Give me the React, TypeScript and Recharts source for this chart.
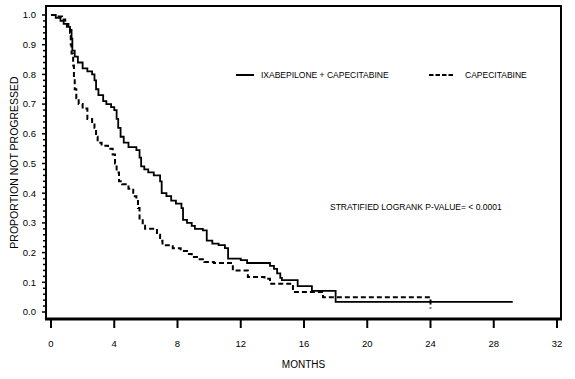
import React from "react";
import { Line, LineChart, XAxis, YAxis } from "recharts";

// Kaplan-Meier step points (month, proportion not progressed)
const ixaMonths = [0, 0.3, 0.6, 0.8, 1.0, 1.2, 1.3, 1.35, 1.5, 1.7, 2.0, 2.3, 2.6, 2.75, 2.85, 3.0, 3.3, 3.5, 3.8, 4.0, 4.15, 4.25, 4.4, 4.6, 4.9, 5.4, 5.6, 5.7, 5.9, 6.15, 6.5, 6.9, 7.0, 7.3, 7.6, 7.9, 8.25, 8.35, 8.6, 8.9, 9.1, 9.6, 9.85, 10.2, 10.6, 11.0, 11.2, 12.0, 12.4, 13.85, 14.1, 14.3, 14.5, 14.6, 15.6, 16.5, 18.0, 29.2];
const ixaProp = [1.0, 0.99, 0.98, 0.97, 0.96, 0.95, 0.92, 0.88, 0.86, 0.84, 0.82, 0.81, 0.8, 0.78, 0.75, 0.73, 0.71, 0.7, 0.69, 0.68, 0.65, 0.62, 0.59, 0.57, 0.555, 0.545, 0.52, 0.49, 0.48, 0.47, 0.46, 0.44, 0.4, 0.39, 0.375, 0.365, 0.35, 0.31, 0.3, 0.29, 0.28, 0.275, 0.24, 0.23, 0.225, 0.215, 0.18, 0.175, 0.165, 0.155, 0.145, 0.13, 0.115, 0.107, 0.087, 0.071, 0.034, 0.034];

const capMonths = [0, 0.4, 0.7, 0.9, 1.1, 1.2, 1.25, 1.3, 1.4, 1.45, 1.5, 1.6, 1.75, 2.0, 2.3, 2.6, 2.75, 2.85, 2.95, 3.2, 3.6, 3.9, 4.05, 4.15, 4.3, 4.5, 4.9, 5.2, 5.4, 5.5, 5.6, 5.8, 5.95, 6.7, 6.9, 7.05, 7.7, 8.2, 8.6, 8.9, 9.4, 9.7, 10.3, 11.5, 12.45, 13.5, 13.85, 15.3, 17.2, 24.0, 24.0];
const capProp = [1.0, 0.995, 0.985, 0.97, 0.96, 0.94, 0.9, 0.87, 0.83, 0.79, 0.75, 0.72, 0.7, 0.685, 0.65, 0.64, 0.62, 0.59, 0.57, 0.56, 0.55, 0.53, 0.5, 0.47, 0.44, 0.43, 0.415, 0.39, 0.38, 0.35, 0.315, 0.29, 0.28, 0.26, 0.24, 0.225, 0.215, 0.205, 0.195, 0.185, 0.178, 0.168, 0.165, 0.14, 0.118, 0.112, 0.095, 0.067, 0.05, 0.05, 0.012];

const xTicks = [0, 4, 8, 12, 16, 20, 24, 28, 32];
const yMajorTicks = [0, 0.1, 0.2, 0.3, 0.4, 0.5, 0.6, 0.7, 0.8, 0.9, 1.0];

const ixaData = ixaMonths.map((m, i) => ({ m, p: ixaProp[i] }));
const capData = capMonths.map((m, i) => ({ m, p: capProp[i] }));

// minor ticks every 0.02 between the labelled ones
const yTicks: number[] = [];
yMajorTicks.forEach((t, i) => {
  yTicks.push(t);
  if (i < yMajorTicks.length - 1) {
    for (let k = 1; k < 5; k++) yTicks.push(+(t + k * 0.02).toFixed(2));
  }
});

const FONT = "'Liberation Sans', Arial, sans-serif";
const Y_TICK_SIZE = 4;
const Y_TICK_MARGIN = 6;

const YTick = (props: any) => {
  const { x, y, payload } = props;
  const v = payload.value;
  const major = Math.abs(v * 10 - Math.round(v * 10)) < 1e-6;
  const edge = x + Y_TICK_SIZE + Y_TICK_MARGIN;
  return (
    <g>
      <line x1={edge - (major ? 4 : 3)} x2={edge} y1={y} y2={y} stroke="#000" strokeWidth={1.5} />
      {major && (
        <text x={x} y={y} dy="0.35em" textAnchor="end" fontSize={9.5} fontFamily={FONT} fill="#000">
          {v.toFixed(1)}
        </text>
      )}
    </g>
  );
};

const YLabel = (props: any) => {
  const vb = props.viewBox || { x: 0, y: 6, width: 46, height: 313 };
  const cx = vb.x + 14;
  const cy = vb.y + vb.height / 2;
  return (
    <text
      x={cx}
      y={cy}
      transform={`rotate(-90, ${cx}, ${cy})`}
      textAnchor="middle"
      dominantBaseline="central"
      fontSize={10.5}
      fontFamily={FONT}
      fill="#000"
    >
      PROPORTION NOT PROGRESSED
    </text>
  );
};

export default function App() {
  return (
    <div style={{ position: "absolute", left: 0, top: 0, width: 575, height: 379, background: "#fff" }}>
      <LineChart width={575} height={379} margin={{ top: 6, right: 14, bottom: 0, left: 0 }}>
        <XAxis
          dataKey="m"
          type="number"
          domain={[0, 32]}
          ticks={xTicks}
          interval={0}
          padding={{ left: 5, right: 4 }}
          height={60}
          tickSize={9}
          tickMargin={12}
          axisLine={false}
          tickLine={{ stroke: "#000", strokeWidth: 2 }}
          tick={{ fill: "#000", fontSize: 9.5, fontFamily: FONT }}
          label={{ value: "MONTHS", position: "insideBottom", offset: 11, fill: "#000", fontSize: 10, fontFamily: FONT }}
        />
        <YAxis
          type="number"
          domain={[0, 1]}
          ticks={yTicks}
          interval={0}
          padding={{ top: 9, bottom: 7 }}
          width={46}
          tickSize={Y_TICK_SIZE}
          tickMargin={Y_TICK_MARGIN}
          tickLine={false}
          axisLine={false}
          tick={<YTick />}
          label={{ content: <YLabel /> }}
        />
        <Line
          data={ixaData}
          dataKey="p"
          type="stepAfter"
          stroke="#000"
          strokeWidth={1.8}
          dot={false}
          isAnimationActive={false}
        />
        <Line
          data={capData}
          dataKey="p"
          type="stepAfter"
          stroke="#000"
          strokeWidth={2}
          strokeDasharray="5 3"
          dot={false}
          isAnimationActive={false}
        />
      </LineChart>
      <svg
        width={575}
        height={379}
        style={{ position: "absolute", left: 0, top: 0, pointerEvents: "none" }}
        fontFamily={FONT}
      >
        {/* plot frame, heavier along the month axis */}
        <rect x={46} y={6} width={515} height={313} fill="none" stroke="#000" strokeWidth={2} />
        <line x1={45} x2={562} y1={319} y2={319} stroke="#000" strokeWidth={3} />
        <line x1={236} x2={254} y1={75} y2={75} stroke="#000" strokeWidth={2} />
        <text x={261} y={75} dominantBaseline="central" fontSize={8.5} fill="#000">
          IXABEPILONE + CAPECITABINE
        </text>
        <line x1={429} x2={453} y1={75} y2={75} stroke="#000" strokeWidth={2} strokeDasharray="4.5 2" />
        <text x={465} y={75} dominantBaseline="central" fontSize={8.5} fill="#000">
          CAPECITABINE
        </text>
        <text x={330} y={207} dominantBaseline="central" fontSize={8.5} fill="#000">
          STRATIFIED LOGRANK P-VALUE= &lt; 0.0001
        </text>
      </svg>
    </div>
  );
}
